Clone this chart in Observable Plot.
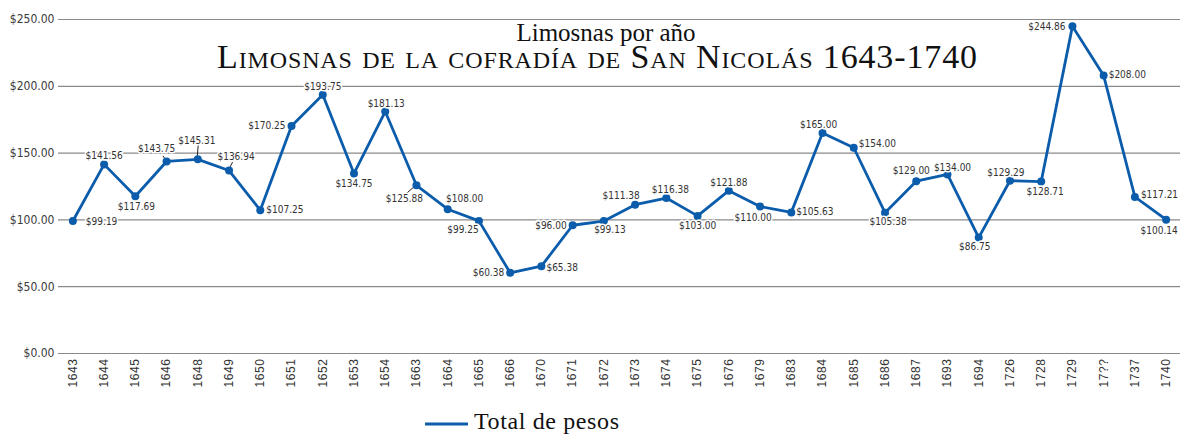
<!DOCTYPE html>
<html>
<head>
<meta charset="utf-8">
<script src="https://cdn.jsdelivr.net/npm/d3@7"></script>
<script src="https://cdn.jsdelivr.net/npm/@observablehq/plot@0.6"></script>
<style>
  html, body { margin: 0; padding: 0; background: #fff; }
  #chart { width: 1180px; }
  #chart svg { display: block; }
  [aria-label="x-axis tick label"] text { letter-spacing: 0.6px; }
</style>
</head>
<body>
<div id="chart"></div>
<script>
// ---------- data ----------
const years = ["1643","1644","1645","1646","1648","1649","1650","1651","1652","1653","1654","1663",
  "1664","1665","1666","1670","1671","1672","1673","1674","1675","1676","1679","1683","1684","1685",
  "1686","1687","1693","1694","1726","1728","1729","17??","1737","1740"];
const totals = [99.19,141.56,117.69,143.75,145.31,136.94,107.25,170.25,193.75,134.75,181.13,125.88,
  108.00,99.25,60.38,65.38,96.00,99.13,111.38,116.38,103.00,121.88,110.00,105.63,165.00,154.00,
  105.38,129.00,134.00,86.75,129.29,128.71,244.86,208.00,117.21,100.14];
const yTicks = [0, 50, 100, 150, 200, 250];
const subtitle = "Limosnas por año";
const title = "Limosnas de la cofradía de San Nicolás 1643-1740";
const seriesName = "Total de pesos";

// ---------- layout (label placement: anchor, dx, dy in px) ----------
const labelPlace = [
  ["start",13,1],["middle",0,-9],["middle",1,11],["middle",-10,-13],["middle",-1,-19],["middle",7,-14],
  ["start",6,0],["end",-6,0],["middle",0,-8],["middle",0,10],["middle",1,-8],["middle",-12,13],
  ["middle",17,-10],["middle",-16,9],["end",-6,0],["start",5,2],["end",-6,1],["middle",6,9],
  ["middle",-14,-9],["middle",4,-8],["middle",0,10],["middle",0,-8],["middle",-7,11],["start",5,-1],
  ["middle",-4,-8],["start",5,-4],["middle",3,9],["middle",-5,-10],["middle",5,-7],["middle",-4,9],
  ["middle",-4,-8],["middle",4,10],["end",-7,0],["start",5,-1],["start",6,-2],["middle",-7,11]
];
// leader lines: year, from offset (px) to offset (px) relative to point
const leaders = [
  ["1646",-3,-5,0,0],
  ["1648",1,-15,0,-3],
  ["1649",4,-8,0,0],
  ["1663",-10,9,-2,2]
];

const blue = "#0b5cab";
const labelFont = "'DejaVu Sans Condensed', 'DejaVu Sans', sans-serif";
const serif = "'Liberation Serif', 'DejaVu Serif', serif";

const data = years.map((year, i) => ({year, total: totals[i], i}));
const fmt = v => "$" + v.toFixed(2);

const titleMark = (index, scales, values, dims) => {
  const g = d3.create("svg:g")
    .attr("font-family", serif)
    .attr("fill", "#111")
    .attr("text-anchor", "middle");
  g.append("text").attr("x", 606).attr("y", 41).attr("font-size", 25).text(subtitle);
  g.append("text").attr("x", 597).attr("y", 68).attr("font-size", 34)
    .attr("textLength", 760).attr("lengthAdjust", "spacing")
    .style("font-variant", "small-caps").text(title);
  return g.node();
};

const leaderMark = (index, scales) => {
  const g = d3.create("svg:g").attr("stroke", "#222").attr("stroke-width", 1);
  for (const [yr, x1, y1, x2, y2] of leaders) {
    const d = data.find(e => e.year === yr);
    const px = scales.x(d.year), py = scales.y(d.total);
    g.append("line").attr("x1", px + x1).attr("y1", py + y1).attr("x2", px + x2).attr("y2", py + y2);
  }
  return g.node();
};

const labelMarks = data.map((d, i) => Plot.text([d], {
  x: "year", y: "total", text: e => fmt(e.total),
  textAnchor: labelPlace[i][0], dx: labelPlace[i][1], dy: labelPlace[i][2],
  fontSize: 10, fontFamily: labelFont, fill: "#333",
  stroke: "white", strokeWidth: 3, strokeOpacity: 1
}));

const chart = Plot.plot({
  width: 1180,
  height: 400,
  marginTop: 19,
  marginBottom: 47,
  marginLeft: 58,
  marginRight: 0,
  style: {background: "#fff", overflow: "visible"},
  x: {type: "point", domain: years, padding: 0.46, round: false, label: null},
  y: {domain: [0, 250], label: null},
  marks: [
    Plot.gridY(yTicks, {stroke: "#8a8a8a", strokeOpacity: 1, strokeWidth: 1.2}),
    Plot.axisY({ticks: yTicks, tickFormat: d => "$" + d.toFixed(2), tickSize: 0, tickPadding: 4,
      fontSize: 12, fontFamily: labelFont, fill: "#3a3a3a", label: null}),
    Plot.axisX({tickRotate: -90, tickSize: 0, tickPadding: 5, fontSize: 12,
      fontFamily: "'Liberation Sans', Arial, sans-serif", fill: "#333", label: null}),
    titleMark,
    Plot.line(data, {x: "year", y: "total", stroke: blue, strokeWidth: 2.8}),
    leaderMark,
    Plot.dot(data, {x: "year", y: "total", r: 4, fill: blue}),
    ...labelMarks
  ]
});
document.getElementById("chart").appendChild(chart);

// legend below the chart
const legend = d3.create("svg").attr("width", 1180).attr("height", 34);
legend.append("line").attr("x1", 425).attr("x2", 468).attr("y1", 24).attr("y2", 24)
  .attr("stroke", blue).attr("stroke-width", 3);
legend.append("text").attr("x", 474).attr("y", 29).attr("font-family", serif)
  .attr("font-size", 24).attr("fill", "#111")
  .attr("textLength", 145).attr("lengthAdjust", "spacing").text(seriesName);
document.getElementById("chart").appendChild(legend.node());
</script>
</body>
</html>
